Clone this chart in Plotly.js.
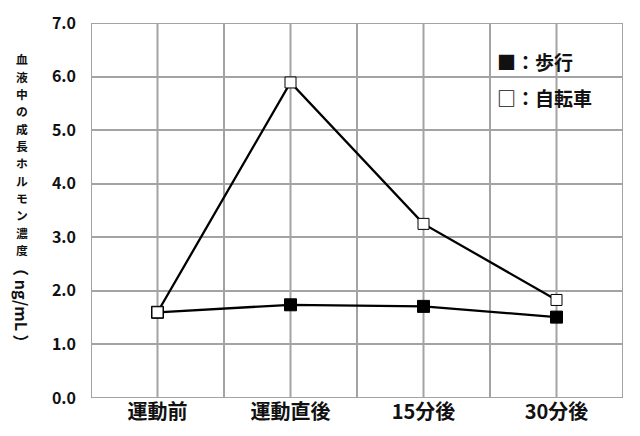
<!DOCTYPE html>
<html><head><meta charset="utf-8">
<script src="https://cdn.plot.ly/plotly-3.0.1.min.js"></script>
<style>html,body{margin:0;padding:0;background:#fff}</style>
</head><body>
<div id="chart" style="width:640px;height:436px"></div>
<script>
const categories = ["運動前", "運動直後", "15分後", "30分後"];
const xPositions = [1, 3, 5, 7];
const walking = [1.60, 1.74, 1.71, 1.51];
const cycling = [1.60, 5.89, 3.25, 1.83];
const yTitleMain = "血液中の成長ホルモン濃度";
const yTitleUnit = "（ ng/mL ）";
const legendNames = ["■：歩行", "□：自転車"];

const FONT = '"Noto Sans CJK JP", "Noto Sans", sans-serif';
const PLOT_TOP = 23, PLOT_H = 375, PLOT_L = 91, PLOT_W = 532;
const py = px => (PLOT_TOP + PLOT_H - px) / PLOT_H;
const pxX = px => (px - PLOT_L) / PLOT_W;

const traces = [
  {x: xPositions, y: walking, mode: 'lines+markers', name: '歩行',
   line: {color: '#000', width: 2.3},
   marker: {symbol: 'square', size: 12, color: '#000', line: {color: '#000', width: 1}}},
  {x: xPositions, y: cycling, mode: 'lines+markers', name: '自転車',
   line: {color: '#000', width: 2.3},
   marker: {symbol: 'square', size: 11, color: '#fff', line: {color: '#000', width: 1}}}
];

const annotations = [];
// vertical (upright) title, one character per line
yTitleMain.split('').forEach((ch, i) => {
  annotations.push({xref: 'paper', yref: 'paper', x: pxX(22), y: py(59 + i * 17.3),
    xanchor: 'center', yanchor: 'middle', text: ch, showarrow: false, borderpad: 0,
    font: {family: FONT, size: 11.8, color: '#111', weight: 'bold'}});
});
annotations.push({xref: 'paper', yref: 'paper', x: pxX(22), y: py(305), xanchor: 'center', yanchor: 'middle',
  text: yTitleUnit, textangle: 90, showarrow: false,
  font: {family: FONT, size: 16, color: '#111', weight: 'bold'}});
annotations.push({xref: 'paper', yref: 'paper', x: pxX(495), y: py(61), xanchor: 'left', yanchor: 'middle',
  text: legendNames[0], showarrow: false,
  font: {family: FONT, size: 19, color: '#111', weight: 'bold'}});
annotations.push({xref: 'paper', yref: 'paper', x: pxX(495), y: py(97), xanchor: 'left', yanchor: 'middle',
  text: legendNames[1], showarrow: false,
  font: {family: FONT, size: 19, color: '#111', weight: 'bold'}});

const layout = {
  width: 640, height: 436,
  margin: {l: 91, r: 17, t: 23, b: 38},
  paper_bgcolor: '#fff', plot_bgcolor: '#fff',
  showlegend: false,
  font: {family: FONT, color: '#000'},
  xaxis: {
    range: [0, 8], tickmode: 'array', tickvals: xPositions, ticktext: categories,
    showgrid: false, zeroline: false,
    showline: false, ticks: '',
    tickfont: {family: FONT, size: 20, color: '#111', weight: 'bold'},
    fixedrange: true
  },
  yaxis: {
    range: [0, 7], dtick: 1, tickformat: '.1f',
    showgrid: true, gridcolor: '#a3a3a3', gridwidth: 2,
    zeroline: false, showline: false, ticks: '',
    ticklabelstandoff: 14,
    tickfont: {family: FONT, size: 16, color: '#111', weight: 'bold'},
    fixedrange: true
  },
  shapes: [],
  annotations: annotations
};
for (let i = 0; i <= 8; i++) {
  layout.shapes.push({type: 'line', xref: 'x', yref: 'paper', x0: i, x1: i, y0: 0, y1: 1,
    line: {color: '#a3a3a3', width: 2}, layer: 'below'});
}
layout.shapes.push({type: 'line', xref: 'paper', yref: 'y', x0: 0, x1: 1, y0: 0, y1: 0,
  line: {color: '#a3a3a3', width: 2}, layer: 'below'});
layout.shapes.push({type: 'line', xref: 'paper', yref: 'y', x0: 0, x1: 1, y0: 7, y1: 7,
  line: {color: '#a3a3a3', width: 2}, layer: 'below'});

Plotly.newPlot('chart', traces, layout, {displayModeBar: false, staticPlot: true});
</script>
</body></html>
